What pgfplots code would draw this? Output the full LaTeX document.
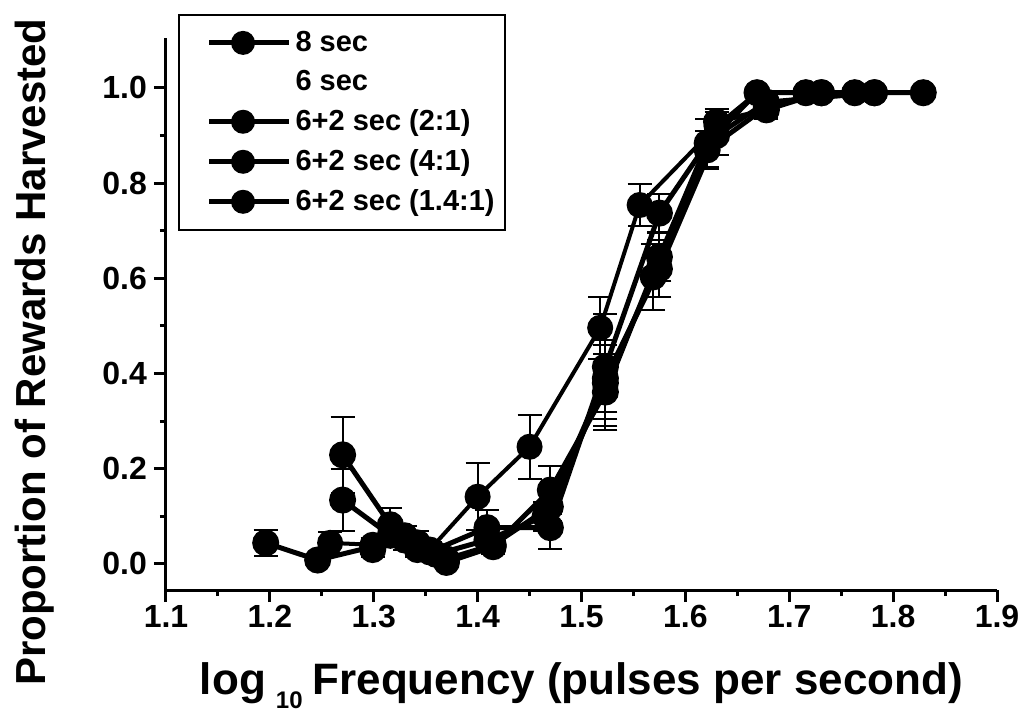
\documentclass[border=0pt]{standalone}
\usepackage{pgfplots}
\pgfplotsset{compat=1.18}
\usepackage{fontspec}
\setmainfont{Liberation Sans}

% 8 sec
\pgfplotstableread{
x y e
1.196 0.044 0.027
1.246 0.008 0.010
1.299 0.036 0.015
1.342 0.044 0.025
1.370 0.003 0.008
1.415 0.036 0.015
1.470 0.155 0.050
1.523 0.361 0.080
1.575 0.645 0.050
1.630 0.929 0.027
1.678 0.954 0.020
1.731 0.990 0.005
1.782 0.990 0.005
1.829 0.990 0.005
}\eightsec
% 6 sec
\pgfplotstableread{
x y e
1.258 0.044 0.022
1.299 0.040 0.015
1.330 0.060 0.020
1.354 0.030 0.015
1.400 0.141 0.070
1.450 0.246 0.067
1.518 0.496 0.065
1.556 0.754 0.045
1.630 0.920 0.030
1.669 0.990 0.005
1.716 0.990 0.005
1.763 0.990 0.005
}\sixsec
% 6+2 (2:1)
\pgfplotstableread{
x y e
1.270 0.229 0.080
1.316 0.082 0.035
1.354 0.025 0.015
1.409 0.076 0.037
1.470 0.076 0.045
1.523 0.414 0.110
1.575 0.737 0.040
1.621 0.884 0.050
1.669 0.990 0.005
1.716 0.990 0.005
1.763 0.990 0.005
}\twoone
% 6+2 (4:1)
\pgfplotstableread{
x y e
1.270 0.134 0.065
1.316 0.060 0.020
1.342 0.030 0.015
1.370 0.010 0.010
1.415 0.040 0.015
1.470 0.120 0.030
1.523 0.380 0.090
1.569 0.603 0.070
1.621 0.870 0.040
1.678 0.960 0.020
1.731 0.990 0.005
}\fourone
% 6+2 (1.4:1)
\pgfplotstableread{
x y e
1.299 0.030 0.015
1.330 0.050 0.020
1.360 0.020 0.010
1.409 0.050 0.020
1.465 0.100 0.030
1.523 0.390 0.070
1.575 0.620 0.060
1.630 0.900 0.040
1.678 0.970 0.015
1.782 0.990 0.005
}\onefour

\begin{document}
\begin{tikzpicture}
\begin{axis}[
  scale only axis,
  width=415.5pt, height=276pt,
  xmin=1.1, xmax=1.9, ymin=-0.055, ymax=1.105,
  axis x line*=bottom, axis y line*=left,
  axis line style={line width=1.5pt, black},
  every tick/.style={black, line width=1.5pt},
  tick align=outside,
  major tick length=6pt, minor tick length=3pt,
  xtick={1.1,1.2,...,1.9}, minor x tick num=1,
  ytick={0,0.2,...,1.0}, minor y tick num=1,
  xticklabel style={yshift=2pt, /pgf/number format/.cd, fixed, fixed zerofill, precision=1},
  yticklabel style={/pgf/number format/.cd, fixed, fixed zerofill, precision=1},
  /pgf/number format/assume math mode=true,
  tick label style={font=\bfseries\fontsize{16}{16}\selectfont},
  xlabel={log\kern5pt\raisebox{-7pt}{\fontsize{12}{12}\selectfont 10}\kern5pt Frequency (pulses per second)},
  ylabel={Proportion of Rewards Harvested},
  xlabel style={font=\bfseries\fontsize{22}{22}\selectfont, at={(axis description cs:0.5,0)}, anchor=center, yshift=-48pt},
  ylabel style={font=\bfseries\fontsize{21}{21}\selectfont, at={(axis description cs:-0.158,0.431)}, anchor=center},
  every axis plot/.append style={black, line width=2.5pt, mark=*, mark size=5.5pt, mark options={solid, fill=black}},
  error bars/error bar style={line width=1pt, solid},
  error bars/error mark options={line width=1pt, mark size=6pt, rotate=90},
]
\addplot[line width=2pt, error bars/.cd, y dir=both, y explicit] table[x=x, y=y, y error=e] {\sixsec};
\addplot[error bars/.cd, y dir=both, y explicit] table[x=x, y=y, y error=e] {\eightsec};
\addplot[error bars/.cd, y dir=both, y explicit] table[x=x, y=y, y error=e] {\twoone};
\addplot[error bars/.cd, y dir=both, y explicit] table[x=x, y=y, y error=e] {\fourone};
\addplot[error bars/.cd, y dir=both, y explicit] table[x=x, y=y, y error=e] {\onefour};
\end{axis}
\begin{axis}[
  scale only axis,
  width=415.5pt, height=276pt,
  xmin=1.1, xmax=1.9, ymin=-0.055, ymax=1.105,
  hide axis,
  legend image code/.code={\path[draw=none] (-12pt,0pt) -- (40pt,0pt); \draw[line width=2.5pt,#1] (0pt,0pt) -- (40pt,0pt); \fill[#1] (17pt,0pt) circle (5.5pt);},
  legend style={at={(axis description cs:0.0145,1.043)}, anchor=north west, draw=black, line width=1pt,
    font=\bfseries\fontsize{14.5}{16}\selectfont, row sep=4pt, inner xsep=3pt, inner ysep=6pt},
  legend cell align=left,
]
\addlegendimage{black}
\addlegendentry{8 sec}
\addlegendimage{white}
\addlegendentry{6 sec}
\addlegendimage{black}
\addlegendentry{6+2 sec (2:1)}
\addlegendimage{black}
\addlegendentry{6+2 sec (4:1)}
\addlegendimage{black}
\addlegendentry{6+2 sec (1.4:1)}
\end{axis}
\pgfresetboundingbox
\path[use as bounding box] ([xshift=-83pt,yshift=-63.5pt]current axis.south west) rectangle ([xshift=11pt,yshift=19pt]current axis.north east);
\end{tikzpicture}
\end{document}
